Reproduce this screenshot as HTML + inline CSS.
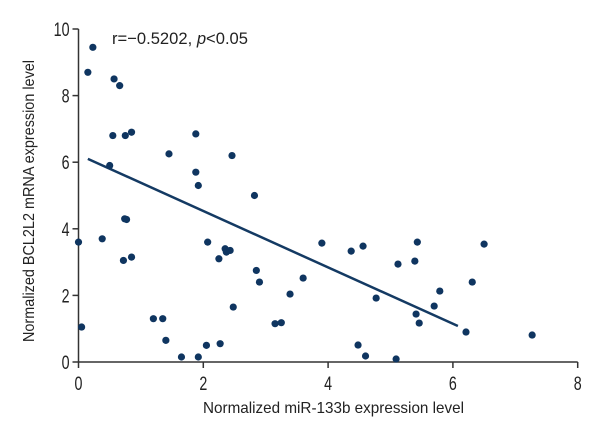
<!DOCTYPE html>
<html><head><meta charset="utf-8"><style>
body{margin:0;background:#fff}
svg text{font-family:"Liberation Sans Narrow","Liberation Sans",sans-serif;fill:#222}
</style></head><body>
<svg id="chart" width="600" height="440" viewBox="0 0 600 440" xmlns="http://www.w3.org/2000/svg">
<g id="axes"></g><g id="marks"></g>
</svg>
<script>
const xVals=[0.0,0.05,0.15,0.23,0.38,0.5,0.55,0.57,0.66,0.72,0.74,0.77,0.75,0.85,0.85,1.2,1.35,1.4,1.45,1.65,1.88,1.88,1.92,1.92,2.05,2.07,2.25,2.27,2.35,2.37,2.43,2.46,2.48,2.82,2.85,2.9,3.39,3.15,3.25,3.6,3.9,4.37,4.56,4.48,4.6,4.77,5.09,5.12,5.39,5.43,5.41,5.46,5.7,5.79,6.21,6.31,6.5,7.27];
const yVals=[3.6,1.05,8.7,9.45,3.7,5.9,6.8,8.5,8.3,3.05,4.3,4.28,6.8,6.9,3.15,1.3,1.3,0.65,6.25,0.15,6.85,5.7,5.3,0.15,0.5,3.6,3.1,0.55,3.4,3.3,3.35,6.2,1.65,5.0,2.75,2.4,2.04,1.15,1.18,2.52,3.57,3.33,3.48,0.51,0.18,1.92,0.09,2.94,3.03,3.6,1.44,1.17,1.68,2.13,0.9,2.4,3.54,0.81];
const fitX=[0.15,6.08];
const fitY=[6.1,1.08];
const xTicks=[0,2,4,6,8];
const yTicks=[0,2,4,6,8,10];
const NS="http://www.w3.org/2000/svg";
const X=v=>78.5+v*62.4, Y=v=>362-v*33.3;
const axes=document.getElementById('axes'), marks=document.getElementById('marks');
function mk(tag,attrs,parent){const e=document.createElementNS(NS,tag);for(const k in attrs)e.setAttribute(k,attrs[k]);parent.appendChild(e);return e;}
let a=mk('line',{x1:X(0),y1:Y(0),x2:X(8),y2:Y(0),stroke:'#333','stroke-width':1.5},axes);


a=mk('line',{x1:X(0),y1:Y(0),x2:X(0),y2:Y(10),stroke:'#333','stroke-width':1.5},axes);


xTicks.forEach(t=>{
  mk('line',{x1:X(t),y1:Y(0),x2:X(t),y2:Y(0)+6,stroke:'#333','stroke-width':1.5},axes);
  const tx=mk('text',{x:X(t),y:390,'text-anchor':'middle','font-size':19,transform:'translate('+X(t)+',0) scale(0.75,1) translate('+(-X(t))+',0)'},axes);
  tx.textContent=t;
  
  
});
yTicks.forEach(t=>{
  mk('line',{x1:X(0)-6,y1:Y(t),x2:X(0),y2:Y(t),stroke:'#333','stroke-width':1.5},axes);
  const tx=mk('text',{x:X(0)-9,y:Y(t)+7,'text-anchor':'end','font-size':19,transform:'translate('+(X(0)-9)+',0) scale(0.75,1) translate('+(-(X(0)-9))+',0)'},axes);
  tx.textContent=t;
  
  
});
let t=mk('text',{x:203,y:413,'font-size':16,textLength:261,lengthAdjust:'spacingAndGlyphs'},axes);
t.textContent='Normalized miR-133b expression level';


t=mk('text',{x:0,y:0,'font-size':16,textLength:282,lengthAdjust:'spacingAndGlyphs',transform:'translate(34,342) rotate(-90)'},axes);
t.textContent='Normalized BCL2L2 mRNA expression level';


t=mk('text',{x:112,y:44,'font-size':17,textLength:136,lengthAdjust:'spacingAndGlyphs'},axes);
t.innerHTML='r=\u22120.5202, <tspan font-style="italic">p</tspan>&lt;0.05';


const ln=mk('line',{x1:X(fitX[0]),y1:Y(fitY[0]),x2:X(fitX[1]),y2:Y(fitY[1]),stroke:'#143a63','stroke-width':2.5},marks);


xVals.forEach((v,i)=>{
  const c=mk('circle',{cx:X(v),cy:Y(yVals[i]),r:3.6,fill:'#0f3560'},marks);
  
  
});
</script>
</body></html>
